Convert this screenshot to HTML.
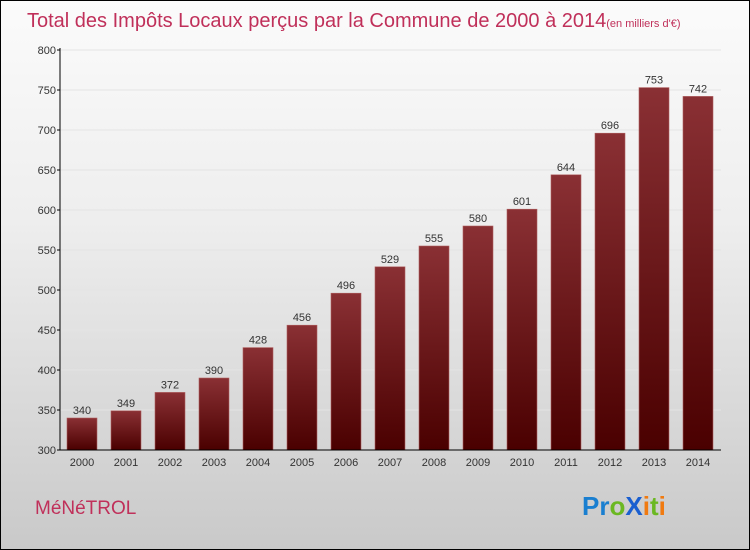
<!DOCTYPE html>
<html><head><meta charset="utf-8"><style>
body{margin:0;}
#c{width:750px;height:550px;position:relative;box-sizing:border-box;border:1px solid #000;background:linear-gradient(#fbfbfb 0%,#eeeeee 40%,#c9c9c9 100%);font-family:"Liberation Sans",sans-serif;overflow:hidden}
</style></head><body>
<div id="c">
<svg width="750" height="550" style="position:absolute;left:-1px;top:-1px">
<defs><linearGradient id="bg" x1="0" y1="0" x2="0" y2="1"><stop offset="0" stop-color="#8a3034"/><stop offset="1" stop-color="#4a0000"/></linearGradient></defs>
<text x="27" y="27" font-size="20" fill="#c0305a">Total des Impôts Locaux perçus par la Commune de 2000 à 2014<tspan font-size="11">(en milliers d'€)</tspan></text>
<g id="g"></g>
<text x="35" y="514" font-size="19" fill="#c0305a">MéNéTROL</text>
<text x="582" y="515" font-size="26" font-weight="bold"><tspan fill="#1a7fd0">Pr</tspan><tspan fill="#6bb822">o</tspan><tspan fill="#1a5fd0">X</tspan><tspan fill="#f07a10">i</tspan><tspan fill="#6bb822">t</tspan><tspan fill="#f07a10">i</tspan></text>
</svg>
</div>
<script>
const years=["2000","2001","2002","2003","2004","2005","2006","2007","2008","2009","2010","2011","2012","2013","2014"];
const values=[340,349,372,390,428,456,496,529,555,580,601,644,696,753,742];
const ticks=[300,350,400,450,500,550,600,650,700,750,800];
const NS="http://www.w3.org/2000/svg";
const g=document.getElementById('g');
const y=v=>450-(v-300)*0.8;
const x=i=>67+i*44;
function mk(t,a){const e=document.createElementNS(NS,t);for(const k in a)e.setAttribute(k,a[k]);g.appendChild(e);return e;}
ticks.forEach(t=>{
 const l=mk('line',{x1:57,x2:60,y1:y(t),y2:y(t),stroke:'#000'});
 
 
 if(t>300){const gl=mk('line',{x1:60,x2:721,y1:y(t),y2:y(t),stroke:'#e4e4e4'});
 
 }
 const tx=mk('text',{x:56,y:y(t)+4,'font-size':11,'text-anchor':'end',fill:'#333'});tx.textContent=t;
 
 
});
values.forEach((v,i)=>{
 const r=mk('rect',{x:x(i),y:y(v),width:30,height:450-y(v),fill:'url(#bg)',stroke:'#b06060','stroke-width':0.6});
 
 
 const t=mk('text',{x:x(i)+15,y:y(v)-4,'font-size':11,'text-anchor':'middle',fill:'#333'});t.textContent=v;
 
 
 const xl=mk('text',{x:x(i)+15,y:466,'font-size':11,'text-anchor':'middle',fill:'#333'});xl.textContent=years[i];
 
 
});
const ya=mk('line',{x1:60,x2:60,y1:48,y2:450,stroke:'#000'});


const xa=mk('line',{x1:60,x2:721,y1:450,y2:450,stroke:'#000'});


</script>
</body></html>
